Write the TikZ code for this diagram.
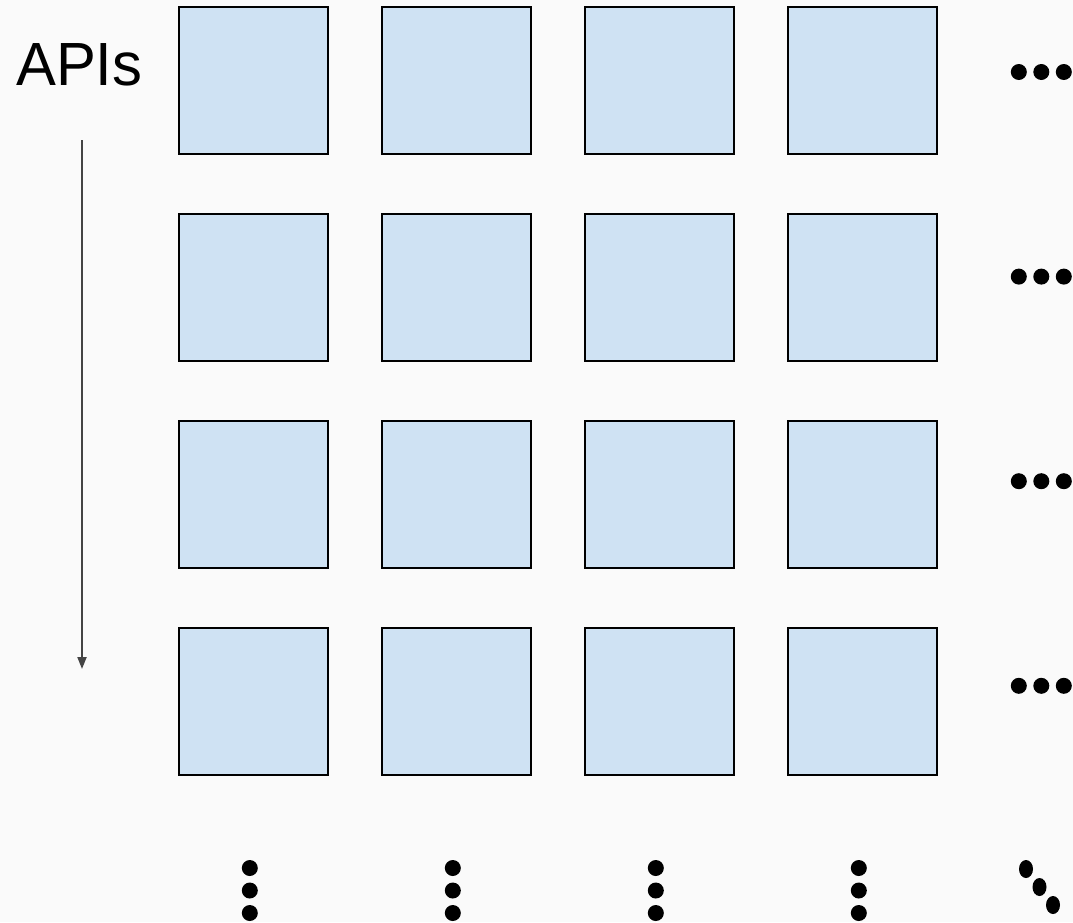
\documentclass[tikz,border=0pt]{standalone}
\usepackage{fontspec}
\setmainfont{Liberation Sans}
\usetikzlibrary{arrows.meta}
\definecolor{BoxClr}{RGB}{207,226,243}
\definecolor{BgClr}{RGB}{250,250,250}
\definecolor{ArrowClr}{RGB}{68,68,68}

\begin{document}
\begin{tikzpicture}[x=1pt,y=-1pt,
  apibox/.style={draw=black,line width=2pt,fill=BoxClr,inner sep=0pt,
    minimum width=149pt,minimum height=147pt}]
\fill[BgClr] (0,0) rectangle (1073,922);
\useasboundingbox (0,0) rectangle (1073,922);

% grid of boxes
\foreach \r in {0,...,3}
  \foreach \c in {0,...,3}
    \node[apibox] (b\r\c) at (253.5+203*\c,80.5+207*\r) {};

\node[anchor=base west,inner sep=0pt,font=\fontsize{61}{70}\selectfont,
  xscale=0.98] (apis) at (16,85) {APIs};

\coordinate (arrtop) at (82,140);
\coordinate (arrbot) at (82,669);
\draw[ArrowClr,line width=2pt,-{Triangle[width=9pt,length=12pt]}] (arrtop) -- (arrbot);

% dots
\foreach \r in {0,...,3}
  \foreach \i in {0,1,2}
    \fill (1018.8+22.5*\i,72+204.6*\r) circle (8pt);
\foreach \c in {0,...,3}
  \foreach \i in {0,1,2}
    \fill (249.8+203*\c,868+22.5*\i) circle (8pt);
\foreach \i in {0,1,2}
  \fill (1026+13.5*\i,869+18*\i) ellipse (7pt and 9pt);

\end{tikzpicture}
\end{document}
